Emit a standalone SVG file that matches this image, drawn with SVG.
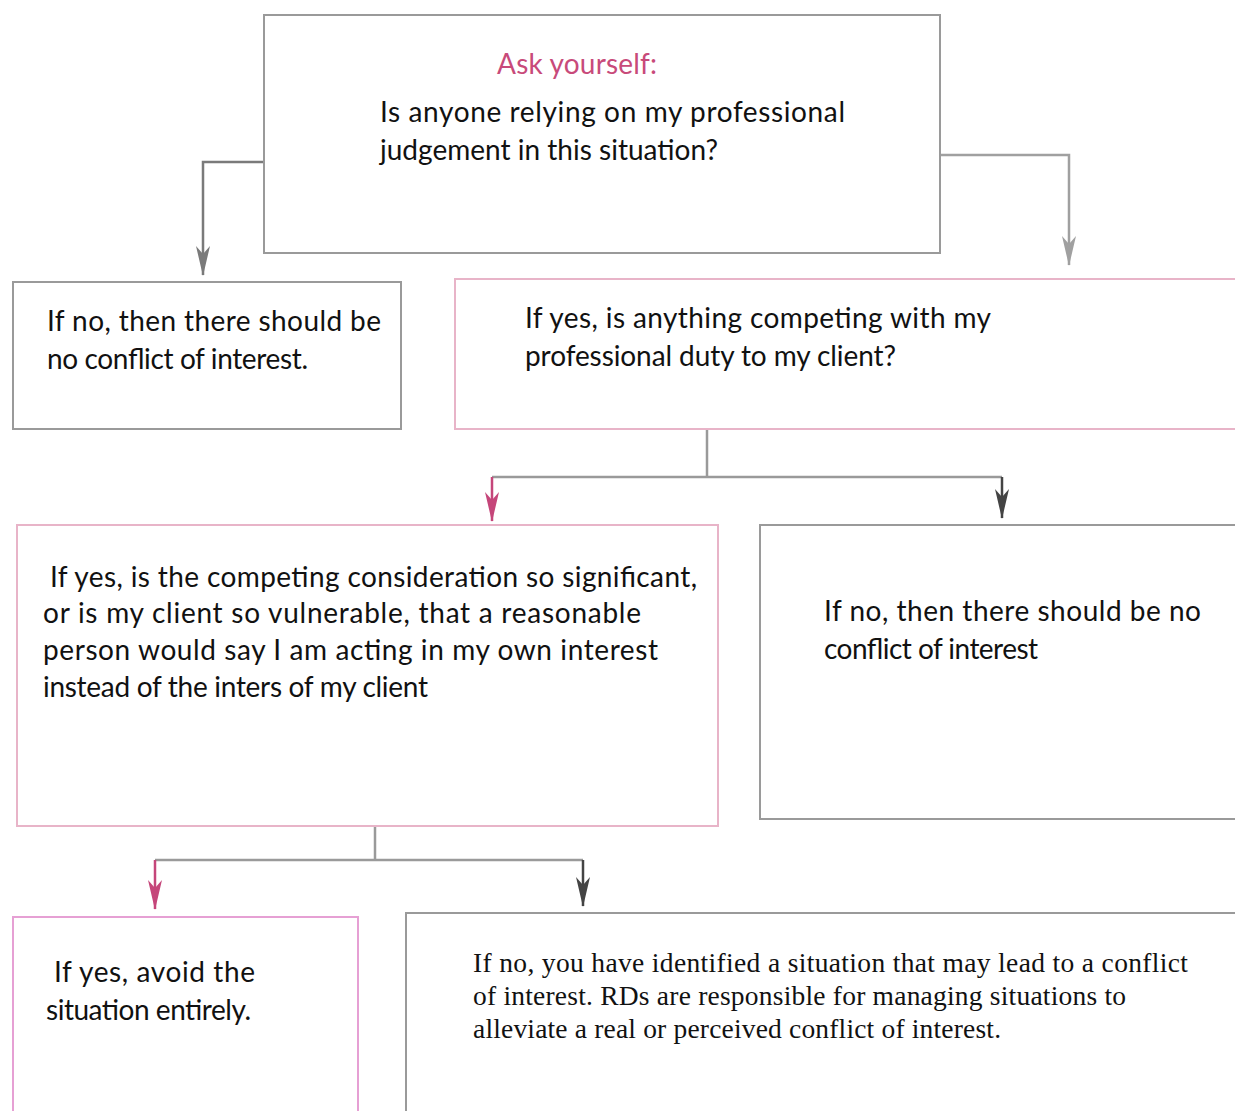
<svg xmlns="http://www.w3.org/2000/svg" width="1235" height="1111" viewBox="0 0 1235 1111">
<defs>
<style>
.box{fill:#fff;stroke-width:2}
.g{stroke:#9a9a9a}
.p{stroke:#e8b4c8}
.m{stroke:#e6a0d4}
.t{font-family:Lato,"Noto Sans",sans-serif;font-size:28px;fill:#111}
.s{font-family:"Liberation Serif",serif;font-size:27.5px;fill:#111}
.h{font-family:Lato,"Noto Sans",sans-serif;font-size:28px;fill:#c84a7a}
.c{fill:none;stroke-width:2.5}
</style>
<marker id="aG" viewBox="0 0 30 14" refX="29" refY="7" markerWidth="30" markerHeight="14" markerUnits="userSpaceOnUse" orient="auto"><path d="M0,0 L30,7 L0,14 L8,7 Z" fill="#7a7a7a"/></marker>
<marker id="aL" viewBox="0 0 30 14" refX="29" refY="7" markerWidth="30" markerHeight="14" markerUnits="userSpaceOnUse" orient="auto"><path d="M0,0 L30,7 L0,14 L8,7 Z" fill="#a0a0a0"/></marker>
<marker id="aP" viewBox="0 0 30 14" refX="29" refY="7" markerWidth="30" markerHeight="14" markerUnits="userSpaceOnUse" orient="auto"><path d="M0,0 L30,7 L0,14 L8,7 Z" fill="#c5467a"/></marker>
<marker id="aD" viewBox="0 0 30 14" refX="29" refY="7" markerWidth="30" markerHeight="14" markerUnits="userSpaceOnUse" orient="auto"><path d="M0,0 L30,7 L0,14 L8,7 Z" fill="#444"/></marker>
</defs>
<rect width="1235" height="1111" fill="#fff"/>
<g id="connectors">
<path class="c" d="M264,162 H203 V275" stroke="#7a7a7a" marker-end="url(#aG)"/>
<path class="c" d="M940,155 H1069 V265" stroke="#a0a0a0" marker-end="url(#aL)"/>
<path class="c" d="M707,430 V477" stroke="#9a9a9a"/>
<path class="c" d="M1002,477 H492" stroke="#9a9a9a"/>
<path class="c" d="M492,477 V521" stroke="#c5467a" marker-end="url(#aP)"/>
<path class="c" d="M1002,477 V518" stroke="#444" marker-end="url(#aD)"/>
<path class="c" d="M375,827 V861" stroke="#9a9a9a"/>
<path class="c" d="M583,860 H155" stroke="#9a9a9a"/>
<path class="c" d="M155,860 V909" stroke="#c5467a" marker-end="url(#aP)"/>
<path class="c" d="M583,860 V906" stroke="#444" marker-end="url(#aD)"/>
</g>
<g id="n1">
<rect class="box g" x="264" y="15" width="676" height="238"/>
<text class="h" x="577" y="74" text-anchor="middle" textLength="160">Ask yourself:</text>
<text class="t" x="380" y="122" textLength="465">Is anyone relying on my professional</text>
<text class="t" x="380" y="160" textLength="338">judgement in this situation?</text>
</g>
<g id="n2">
<rect class="box g" x="13" y="282" width="388" height="147"/>
<text class="t" x="47" y="331" textLength="334">If no, then there should be</text>
<text class="t" x="47" y="369" textLength="261">no conflict of interest.</text>
</g>
<g id="n3">
<rect class="box p" x="455" y="279" width="790" height="150"/>
<text class="t" x="525" y="328" textLength="466">If yes, is anything competing with my</text>
<text class="t" x="525" y="366" textLength="371">professional duty to my client?</text>
</g>
<g id="n4">
<rect class="box p" x="17" y="525" width="701" height="301"/>
<text class="t" x="50" y="587" textLength="647">If yes, is the competing consideration so significant,</text>
<text class="t" x="43" y="623" textLength="598">or is my client so vulnerable, that a reasonable</text>
<text class="t" x="43" y="660" textLength="615">person would say I am acting in my own interest</text>
<text class="t" x="43" y="697" textLength="385">instead of the inters of my client</text>
</g>
<g id="n5">
<rect class="box g" x="760" y="525" width="485" height="294"/>
<text class="t" x="824" y="621" textLength="377">If no, then there should be no</text>
<text class="t" x="824" y="659" textLength="214">conflict of interest</text>
</g>
<g id="n6">
<rect class="box m" x="13" y="917" width="345" height="210"/>
<text class="t" x="54" y="982" textLength="201">If yes, avoid the</text>
<text class="t" x="46" y="1020" textLength="205">situation entirely.</text>
</g>
<g id="n7">
<rect class="box g" x="406" y="913" width="839" height="214"/>
<text class="s" x="473" y="972" textLength="715">If no, you have identified a situation that may lead to a conflict</text>
<text class="s" x="473" y="1005" textLength="653">of interest. RDs are responsible for managing situations to</text>
<text class="s" x="473" y="1038" textLength="528">alleviate a real or perceived conflict of interest.</text>
</g>
</svg>
